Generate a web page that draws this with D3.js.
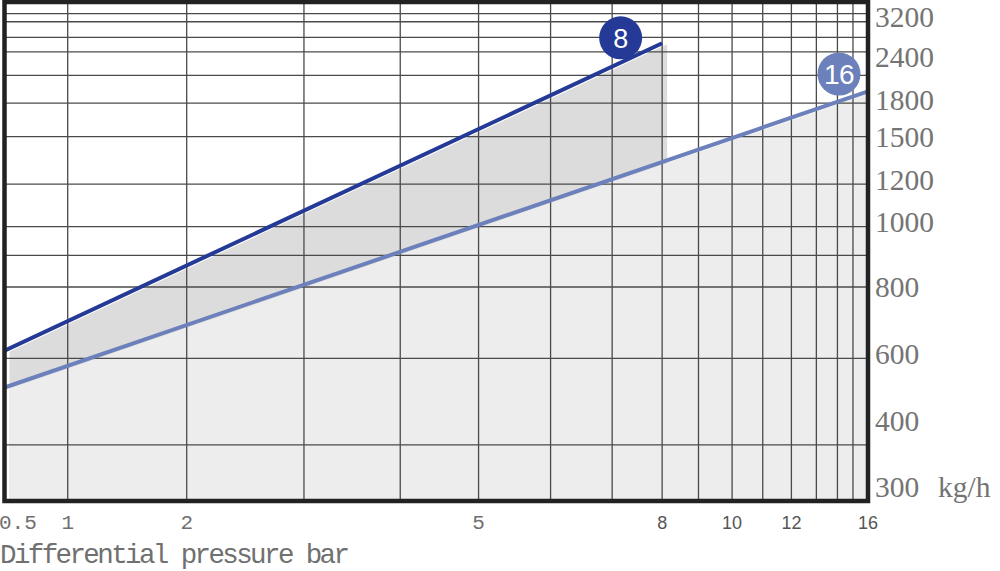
<!DOCTYPE html>
<html>
<head>
<meta charset="utf-8">
<script src="https://cdn.jsdelivr.net/npm/d3@7/dist/d3.min.js"></script>
<style>
  html, body { margin: 0; padding: 0; background: #ffffff; }
  svg { display: block; }
</style>
</head>
<body>
<svg id="chart" width="1000" height="571"></svg>
<script>
// ---------------- data ----------------
// x: differential pressure (bar)
const pressureTicks = [0.5, 1, 2, 5, 8, 10, 12, 16];
const pressureGrid = [1, 2, 3, 4, 5, 6, 7, 8, 9, 10, 11, 12, 13, 14, 15];
// y: capacity (kg/h)
const capacityTicks = [300, 400, 600, 800, 1000, 1200, 1500, 1800, 2400, 3200];
const capacityGrid = [3200, 3050, 2760, 2490, 2140, 1775, 1500, 1180, 985, 897, 800, 587, 364];
// series: [pressure, capacity]
const series8 = [[0.5, 610], [8, 2650]];
const series16 = [[0.5, 500], [16, 1920]];
const seriesNames = ["8", "16"];
const badgePressure = [7.17, 14.1];
const badgeCapacity = [2750, 2160];
const xTitle = "Differential pressure bar";
const yUnit = "kg/h";

// ---------------- layout ----------------
const plot = { left: 4.5, right: 868, top: 2, bottom: 501 };
// the chart's own (non-uniform) printed axis: stop values -> fraction of plot size
const xStops = [0.5, 1, 2, 3, 4, 5, 6, 7, 8, 9, 10, 11, 12, 13, 14, 15, 16];
const xFrac = [0, 0.0732, 0.2110, 0.3468, 0.4583, 0.5490, 0.6324, 0.7037, 0.7616, 0.8037, 0.8426, 0.8781, 0.9113, 0.9402, 0.9646, 0.9826, 1];
const yStops = [300, 400, 600, 800, 1000, 1200, 1500, 1800, 2400, 3200];
const yFrac = [0.9729, 0.8397, 0.7054, 0.5711, 0.4403, 0.3567, 0.2699, 0.1964, 0.1096, 0.0234];

const W = plot.right - plot.left, H = plot.bottom - plot.top;
const x = d3.scaleLinear().domain(xStops).range(xFrac.map(f => plot.left + f * W));
const y = d3.scaleLinear().domain(yStops).range(yFrac.map(f => plot.top + f * H));

const svg = d3.select("#chart");
const colors = { s8: "#243a96", s16: "#6c80bb", shade8: "#dcdcdc", shade16: "#ededed", grid: "#4a4a4a", frame: "#222222" };

// clip
svg.append("defs").append("clipPath").attr("id", "plotClip")
  .append("rect").attr("x", plot.left).attr("y", plot.top).attr("width", W).attr("height", H);

const gPlot = svg.append("g").attr("clip-path", "url(#plotClip)");

// shaded areas (slightly offset, like the print)
const area = d3.area().x(d => x(d[0])).y0(plot.bottom).y1(d => y(d[1]));
gPlot.append("path").datum(series8).attr("d", area).attr("fill", colors.shade8)
  .attr("transform", "translate(5,1)");
gPlot.append("path").datum(series16).attr("d", area).attr("fill", colors.shade16)
  .attr("transform", "translate(5,1)");

// grid
gPlot.append("g").selectAll("line").data(pressureGrid).join("line")
  .attr("x1", d => x(d)).attr("x2", d => x(d))
  .attr("y1", plot.top).attr("y2", plot.bottom)
  .attr("stroke", colors.grid).attr("stroke-width", 1.3);
gPlot.append("g").selectAll("line").data(capacityGrid).join("line")
  .attr("y1", d => y(d)).attr("y2", d => y(d))
  .attr("x1", plot.left).attr("x2", plot.right)
  .attr("stroke", colors.grid).attr("stroke-width", 1.3);

// lines
const line = d3.line().x(d => x(d[0])).y(d => y(d[1]));
gPlot.append("path").datum(series16).attr("d", line).attr("fill", "none")
  .attr("stroke", colors.s16).attr("stroke-width", 4);
gPlot.append("path").datum(series8).attr("d", line).attr("fill", "none")
  .attr("stroke", colors.s8).attr("stroke-width", 4);

// frame
svg.append("rect").attr("x", plot.left).attr("y", plot.top).attr("width", W).attr("height", H)
  .attr("fill", "none").attr("stroke", colors.frame).attr("stroke-width", 4.5);

// badges
const badgeColors = [colors.s8, colors.s16];
seriesNames.forEach((name, i) => {
  const cx = x(badgePressure[i]), cy = y(badgeCapacity[i]);
  svg.append("circle").attr("cx", cx).attr("cy", cy).attr("r", 21.5).attr("fill", badgeColors[i]);
  svg.append("text").attr("x", cx).attr("y", cy + 10).attr("text-anchor", "middle")
    .attr("font-family", "'Liberation Sans', Arial, sans-serif").attr("font-size", i === 1 ? 28 : 27)
    .attr("fill", "#ffffff").attr("letter-spacing", i === 1 ? -0.5 : 0).text(name);
});

// y labels (right side) - kept inside the canvas
const yLabelSize = 29.5;
svg.append("g").selectAll("text").data(capacityTicks).join("text")
  .attr("x", 875).attr("y", d => Math.max(y(d) + 10, yLabelSize * 0.9))
  .attr("font-family", "'Liberation Serif', 'Times New Roman', serif").attr("font-size", yLabelSize)
  .attr("fill", "#747474").text(d => d);
svg.append("text").attr("x", 938).attr("y", y(300) + 10)
  .attr("font-family", "'Liberation Serif', 'Times New Roman', serif").attr("font-size", yLabelSize)
  .attr("fill", "#747474").text(yUnit);

// x labels
svg.append("g").selectAll("text").data(pressureTicks).join("text")
  .attr("x", (d, i) => i === 0 ? -1 : x(d))
  .attr("y", 529)
  .attr("text-anchor", (d, i) => i === 0 ? "start" : "middle")
  .attr("font-family", d => d < 8 ? "'Liberation Mono', 'Courier New', monospace" : "'Liberation Sans', Arial, sans-serif")
  .attr("font-size", d => d < 8 ? 21 : 18)
  .attr("fill", d => d < 8 ? "#707070" : "#555555")
  .text(d => d);

// x title
svg.append("text").attr("x", 0).attr("y", 563)
  .attr("font-family", "'Liberation Mono', 'Courier New', monospace").attr("font-size", 27.5)
  .attr("textLength", 350).attr("lengthAdjust", "spacing")
  .attr("fill", "#707070").text(xTitle);
</script>
</body>
</html>
